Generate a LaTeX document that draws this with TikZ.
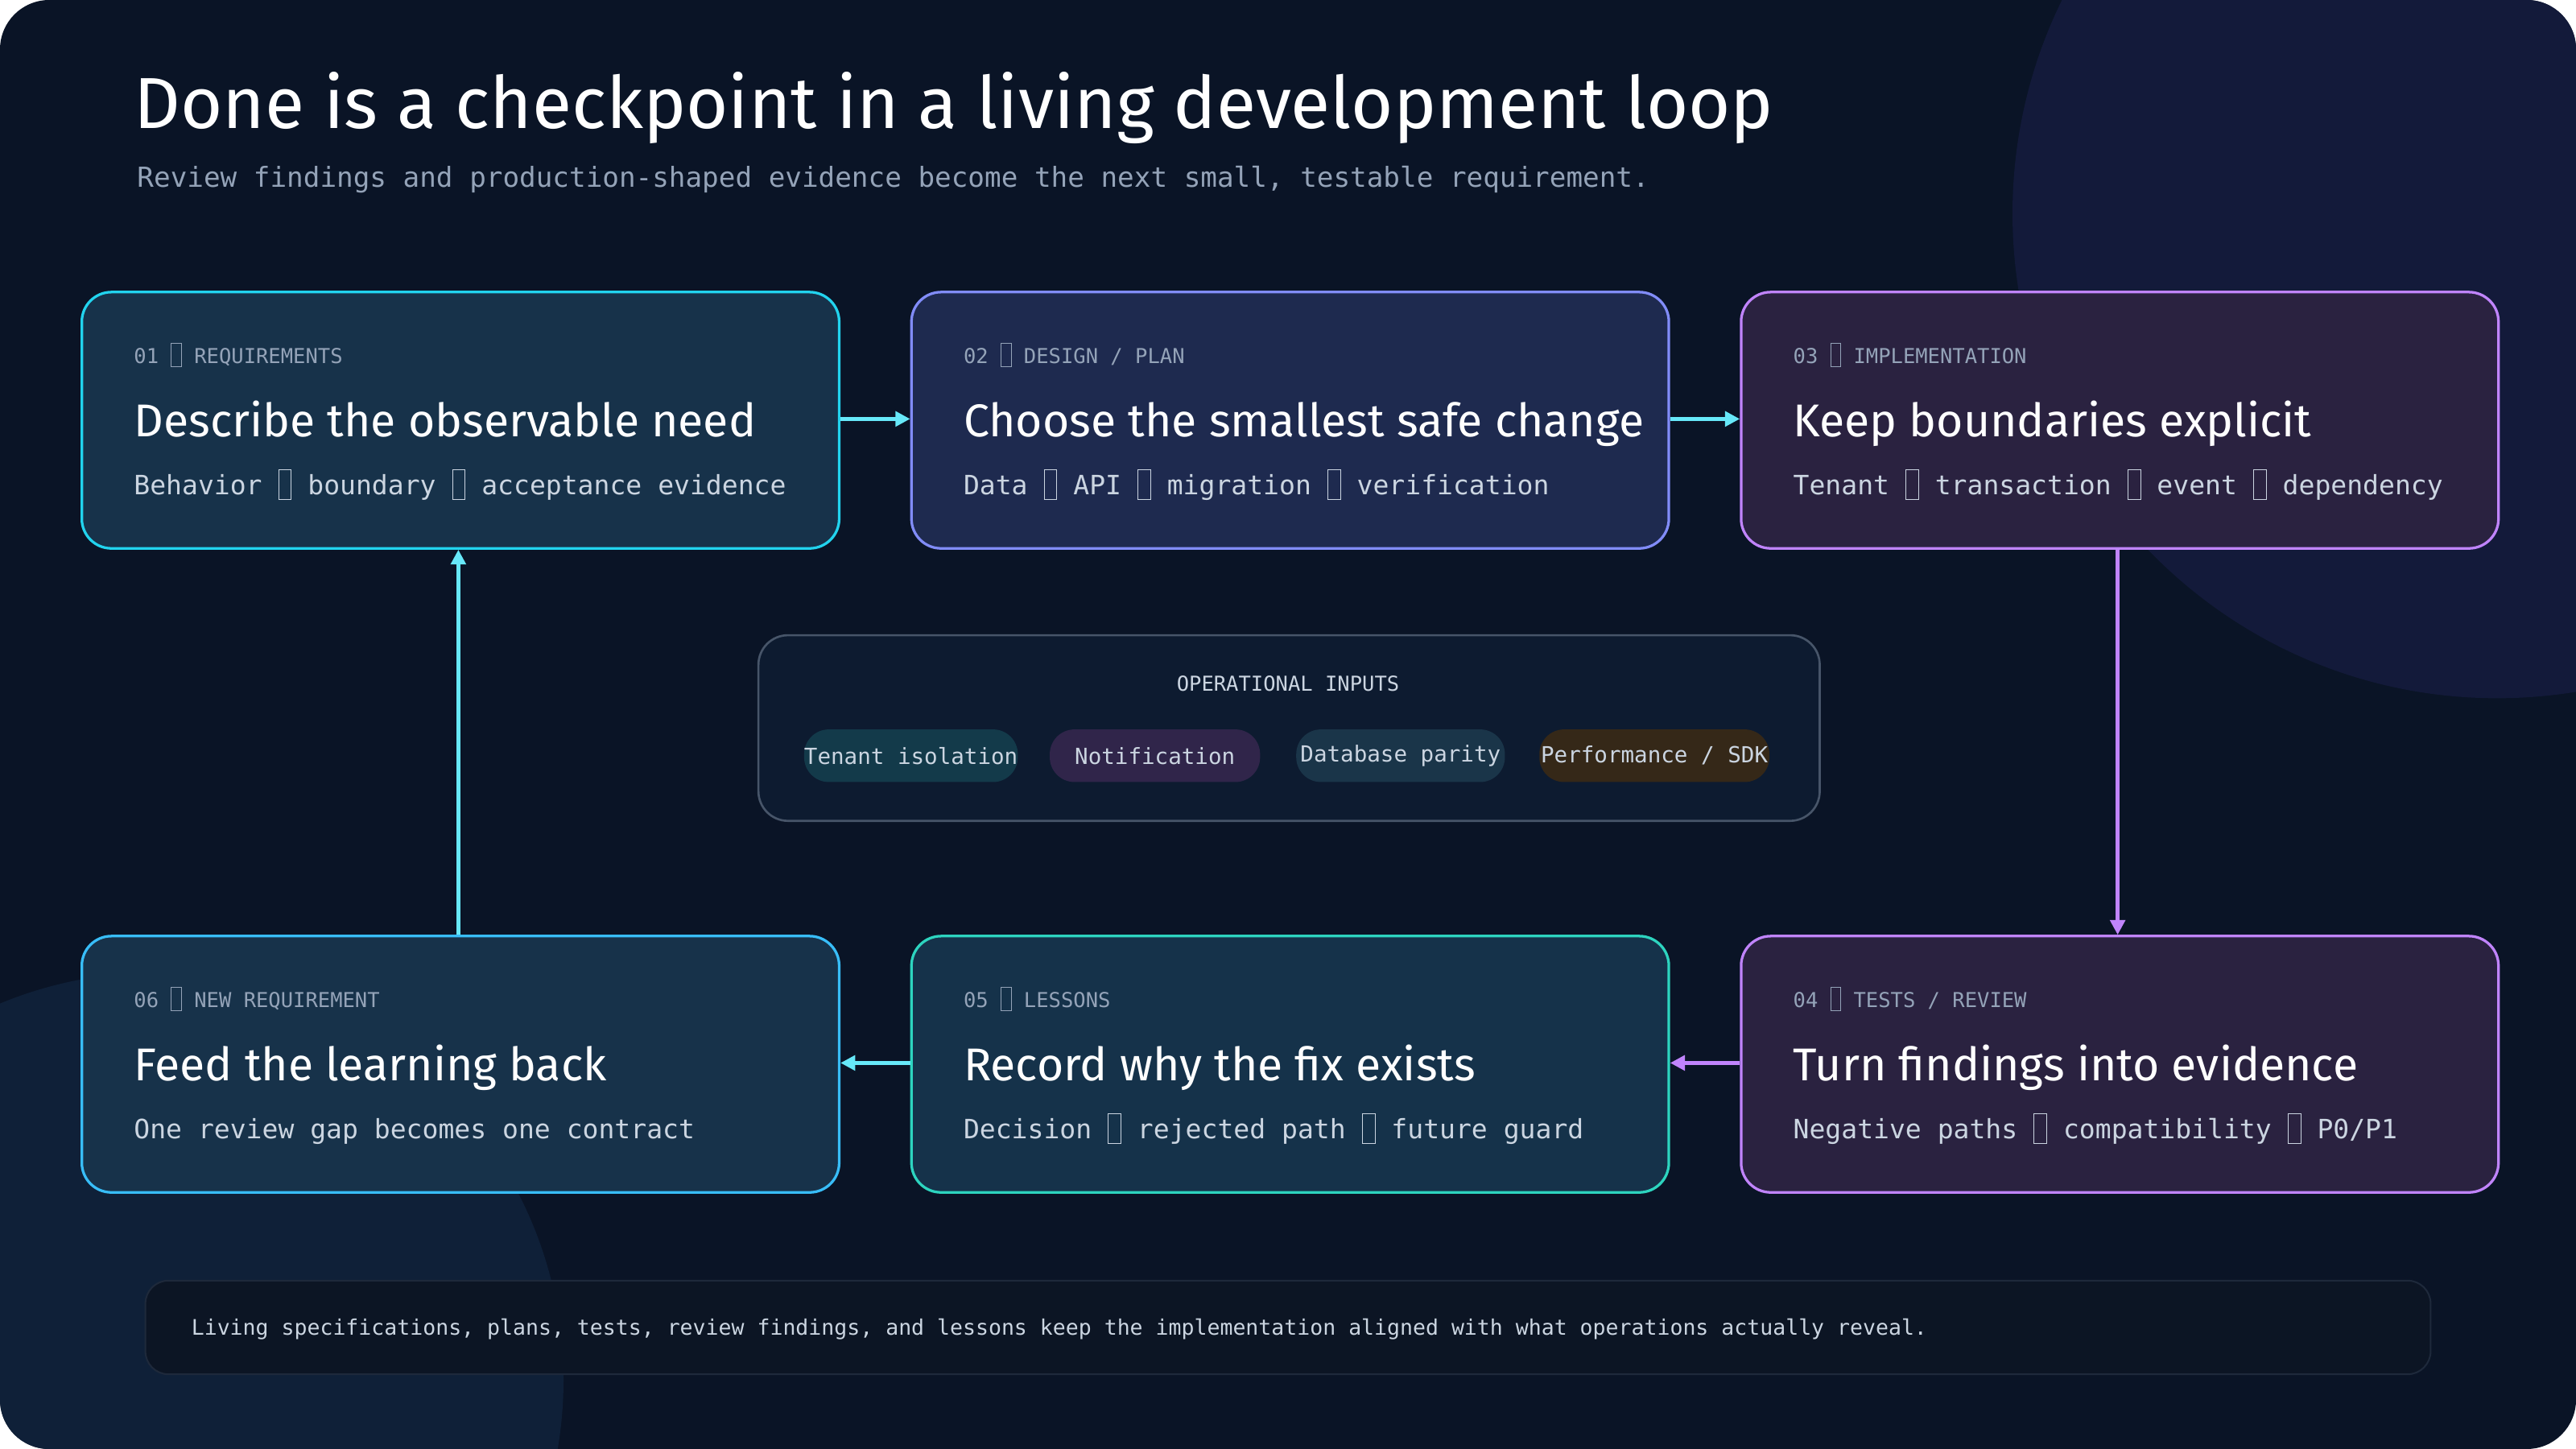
\documentclass[tikz,border=0pt]{standalone}
\usepackage{fontspec}
\setmainfont{Fira Sans}
\setmonofont{DejaVu Sans Mono}
\usetikzlibrary{arrows.meta}
\definecolor{bgA}{HTML}{0A1426}
\definecolor{bgB}{HTML}{131A3A}
\definecolor{bgC}{HTML}{0F2038}
\definecolor{muted}{HTML}{94A3B8}
\definecolor{soft}{HTML}{CBD5E1}
\definecolor{cyanL}{HTML}{22D3EE}
\definecolor{arrowC}{HTML}{67E8F9}
\definecolor{skyL}{HTML}{38BDF8}
\definecolor{indL}{HTML}{818CF8}
\definecolor{purL}{HTML}{C084FC}
\definecolor{tealL}{HTML}{2DD4BF}
\definecolor{fillA}{HTML}{17324A}
\definecolor{fillB}{HTML}{1E2A4F}
\definecolor{fillC}{HTML}{2A2240}
\definecolor{fillD}{HTML}{15324A}
\definecolor{opsLine}{HTML}{475569}
\definecolor{opsFill}{HTML}{0D1B30}
\definecolor{chipA}{HTML}{133A4A}
\definecolor{chipB}{HTML}{30254A}
\definecolor{chipC}{HTML}{1A3549}
\definecolor{chipD}{HTML}{352818}
\definecolor{footLine}{HTML}{1E293B}
\definecolor{footFill}{HTML}{0C1524}
\newcommand\sepbox{\raisebox{-0.3ex}{\fboxsep=0pt\fboxrule=0.5pt\fbox{\rule{0pt}{2ex}\hspace{0.45em}}}}
\tikzset{
  card/.style={draw, line width=1.6pt, rounded corners=18pt, minimum width=461pt, minimum height=156pt, anchor=north west},
  tag/.style={anchor=base west, font=\ttfamily\fontsize{12.5}{12.5}\selectfont, text=muted},
  head/.style={anchor=base west, font=\fontsize{28}{28}\selectfont, text=white},
  sub/.style={anchor=base west, font=\ttfamily\fontsize{16.2}{16.2}\selectfont, text=soft},
  chip/.style={rounded corners=15pt, minimum height=32pt, inner sep=0pt, font=\ttfamily\fontsize{13.5}{13.5}\selectfont, text=soft},
  flow/.style={line width=2.4pt, -{Triangle[length=9pt,width=9pt]}}
}
\begin{document}
\begin{tikzpicture}[x=1pt,y=-1pt]
% background
\fill[bgA, rounded corners=30pt] (0,0) rectangle (1568,882);
\begin{scope}
\clip[rounded corners=30pt] (0,0) rectangle (1568,882);
\fill[bgB] (1520,130) circle (295);
\fill[bgC] (95,840) circle (248);
\end{scope}
\useasboundingbox (0,0) rectangle (1568,882);

% Text Node
\node[anchor=base west, font=\fontsize{44}{44}\selectfont, text=white] (title) at (78,78) {Done is a checkpoint in a living development loop};
% Text Node
\node[anchor=base west, font=\ttfamily\fontsize{16.8}{16.8}\selectfont, text=muted] (subtitle) at (80,114) {Review findings and production-shaped evidence become the next small, testable requirement.};

% cards
\node[card, fill=fillA, draw=cyanL] (c1) at (49,177) {};
\node[card, fill=fillB, draw=indL] (c2) at (554,177) {};
\node[card, fill=fillC, draw=purL] (c3) at (1059,177) {};
\node[card, fill=fillC, draw=purL] (c4) at (1059,569) {};
\node[card, fill=fillD, draw=tealL] (c5) at (554,569) {};
\node[card, fill=fillA, draw=skyL] (c6) at (49,569) {};

% card texts
\node[tag] (t1) at (78,221) {01 \sepbox{} REQUIREMENTS};
\node[head] (h1) at (78,266) {Describe the observable need};
\node[sub] (s1) at (78,301) {Behavior \sepbox{} boundary \sepbox{} acceptance evidence};
\node[tag] (t2) at (583,221) {02 \sepbox{} DESIGN / PLAN};
\node[head] (h2) at (583,266) {Choose the smallest safe change};
\node[sub] (s2) at (583,301) {Data \sepbox{} API \sepbox{} migration \sepbox{} verification};
\node[tag] (t3) at (1088,221) {03 \sepbox{} IMPLEMENTATION};
\node[head] (h3) at (1088,266) {Keep boundaries explicit};
\node[sub] (s3) at (1088,301) {Tenant \sepbox{} transaction \sepbox{} event \sepbox{} dependency};
\node[tag] (t4) at (1088,613) {04 \sepbox{} TESTS / REVIEW};
\node[head] (h4) at (1088,658) {Turn findings into evidence};
\node[sub] (s4) at (1088,693) {Negative paths \sepbox{} compatibility \sepbox{} P0/P1};
\node[tag] (t5) at (583,613) {05 \sepbox{} LESSONS};
\node[head] (h5) at (583,658) {Record why the fix exists};
\node[sub] (s5) at (583,693) {Decision \sepbox{} rejected path \sepbox{} future guard};
\node[tag] (t6) at (78,613) {06 \sepbox{} NEW REQUIREMENT};
\node[head] (h6) at (78,658) {Feed the learning back};
\node[sub] (s6) at (78,693) {One review gap becomes one contract};

% flow
\draw[flow, arrowC] (c1.east |- 0,255) -- (c2.west |- 0,255);
\draw[flow, arrowC] (c2.east |- 0,255) -- (c3.west |- 0,255);
\draw[flow, purL] (c3.south -| 1289,0) -- (c4.north -| 1289,0);
\draw[flow, purL] (c4.west |- 0,647) -- (c5.east |- 0,647);
\draw[flow, arrowC] (c5.west |- 0,647) -- (c6.east |- 0,647);
\draw[flow, arrowC] (c6.north -| 279,0) -- (c1.south -| 279,0);

% operational inputs
\node[draw=opsLine, line width=1.3pt, fill=opsFill, rounded corners=18pt, minimum width=646pt, minimum height=113pt, anchor=north west] (ops) at (461,386) {};
\node[font=\ttfamily\fontsize{12.5}{12.5}\selectfont, text=soft] (opslabel) at (784,416) {OPERATIONAL INPUTS};
\node[chip, fill=chipA, minimum width=129pt] (p1) at (554.5,460) {Tenant isolation};
\node[chip, fill=chipB, minimum width=128pt] (p2) at (703,460) {Notification};
\node[chip, fill=chipC, minimum width=127pt] (p3) at (852.5,460) {Database parity};
\node[chip, fill=chipD, minimum width=140pt] (p4) at (1007,460) {Performance / SDK};

% footer
\node[draw=footLine, line width=1pt, fill=footFill, rounded corners=14pt, minimum width=1391pt, minimum height=57pt, anchor=north west] (foot) at (88,779) {};
\node[anchor=west, font=\ttfamily\fontsize{13}{13}\selectfont, text=soft] (foottext) at (113,809) {Living specifications, plans, tests, review findings, and lessons keep the implementation aligned with what operations actually reveal.};
\end{tikzpicture}
\end{document}
